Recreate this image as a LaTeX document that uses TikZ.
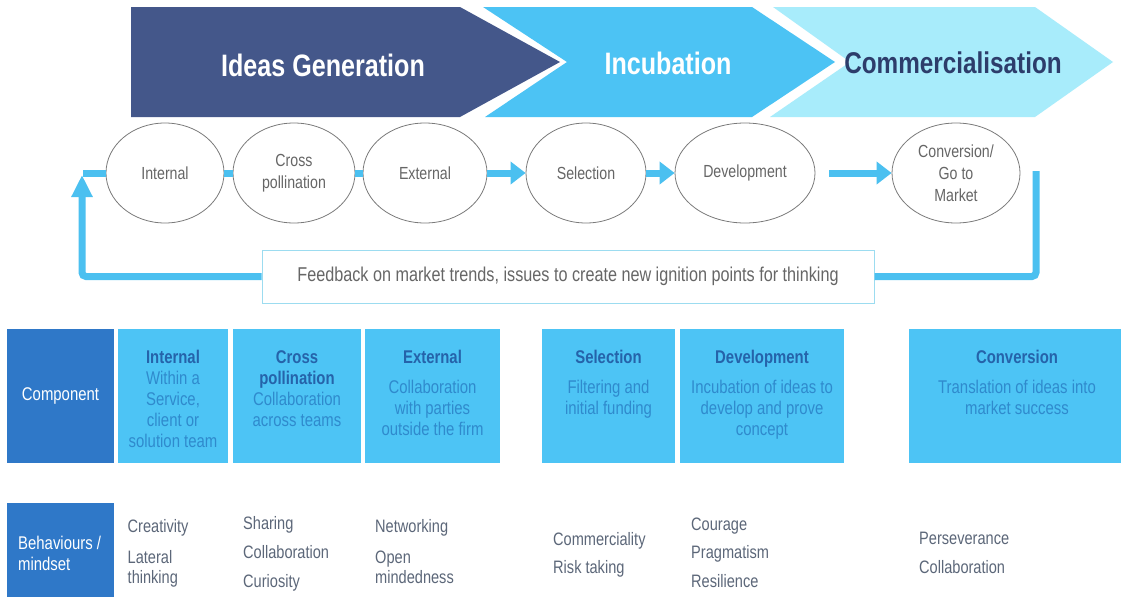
\documentclass[tikz,border=0pt]{standalone}
\usepackage{fontspec}
\setmainfont{Liberation Sans}[FakeStretch=0.81]
\usetikzlibrary{shapes.geometric,arrows.meta,calc}

\definecolor{navy}{HTML}{44578A}
\definecolor{sky}{HTML}{4CC3F4}
\definecolor{pale}{HTML}{A8ECFB}
\definecolor{deepnavy}{HTML}{2D3D6B}
\definecolor{midblue}{HTML}{2F78C8}
\definecolor{boxblue}{HTML}{4DC4F5}
\definecolor{titleblue}{HTML}{2563AA}
\definecolor{bodyblue}{HTML}{2F8ACD}
\definecolor{flow}{HTML}{4BC0F0}
\definecolor{ringgray}{HTML}{7A7A7A}
\definecolor{labelgray}{HTML}{666666}
\definecolor{traitgray}{HTML}{5C6779}
\definecolor{fbline}{HTML}{9CDCF0}

\newcommand\celltitle[1]{\textcolor{titleblue}{\bfseries #1}}

\begin{document}
\begin{tikzpicture}[x=1pt,y=-1pt,
  phase/.style={inner sep=0pt, font=\fontsize{31}{33}\selectfont\bfseries},
  stage/.style={ellipse, draw=ringgray, line width=0.8pt, fill=white, inner sep=0pt,
    minimum height=100pt, align=center, text=labelgray,
    font=\fontsize{17.5}{22}\selectfont},
  flowbar/.style={draw=flow, line width=7pt},
  flowarrow/.style={flowbar, -{Triangle[length=15pt,width=22pt]}},
  cellbox/.style={fill=boxblue, inner sep=0pt, minimum height=134pt},
  headbox/.style={fill=midblue, inner sep=0pt},
  cell/.style={anchor=north, align=center, inner sep=0pt, text=bodyblue,
    font=\fontsize{18.4}{21}\selectfont},
  trait/.style={anchor=base west, inner sep=0pt, text=traitgray,
    font=\fontsize{18}{20}\selectfont}
]
\useasboundingbox (0,0) rectangle (1121,597);
\fill[white] (0,0) rectangle (1121,597);

% phase chevrons
\fill[navy] (131,7) -- (460,7) -- (560,62) -- (460,117) -- (131,117) -- cycle;
\fill[sky] (483,7) -- (752,7) -- (835,62) -- (752,117) -- (485,117) -- (567,62) -- cycle;
\fill[pale] (773,7) -- (1035,7) -- (1113,62) -- (1035,117) -- (770,117) -- (850,62) -- cycle;
\node[phase, text=white] (pideas) at (323,65) {Ideas Generation};
\node[phase, text=white] (pincub) at (668,63) {Incubation};
\node[phase, text=deepnavy, font=\fontsize{30}{32}\selectfont\bfseries] (pcomm) at (953,63) {Commercialisation};

% process stages
\node[stage, minimum width=118pt] (int) at (165,173) {Internal};
\node[stage, minimum width=122pt] (cross) at (294,173) {Cross\\pollination};
\node[stage, minimum width=124pt] (ext) at (425,173) {External};
\node[stage, minimum width=120pt] (sel) at (586,173) {Selection};
\node[stage, minimum width=140pt] (dev) at (745,173) {Development};
\node[stage, minimum width=128pt] (conv) at (956,173) {Conversion/\\Go to\\Market};

\draw[flowbar] (int) -- (cross);
\draw[flowbar] (cross) -- (ext);
\draw[flowarrow] (ext) -- (sel);
\draw[flowarrow] (sel) -- (dev);
\coordinate (devout) at (829,173);
\draw[flowarrow] (devout) -- (conv.west);

% feedback loop
\node[draw=fbline, line width=1pt, minimum width=612pt, minimum height=53pt,
  inner sep=0pt, text=labelgray, font=\fontsize{20}{22}\selectfont] (fb) at (568,276.5)
  {Feedback on market trends, issues to create new ignition points for thinking};
\coordinate (loopin) at (1036,171);
\coordinate (ret) at (82,175);
\coordinate (stub) at (83,173);
\draw[flowbar, rounded corners=4pt] (loopin) |- (fb.east);
\draw[flowbar, rounded corners=4pt, -{Triangle[length=22pt,width=20pt]}] (fb.west) -| (ret);
\draw[flowbar] (stub) -- (int.west);

% component row
\node[headbox, minimum width=107pt, minimum height=134pt] (comp) at (60.5,396) {};
\node[text=white, inner sep=0pt, font=\fontsize{18.4}{21}\selectfont] (complbl) at (comp) {Component};
\node[cellbox, minimum width=110pt] (bint) at (173,396) {};
\node[cellbox, minimum width=128pt] (bcross) at (297,396) {};
\node[cellbox, minimum width=135pt] (bext) at (432.5,396) {};
\node[cellbox, minimum width=133pt] (bsel) at (608.5,396) {};
\node[cellbox, minimum width=164pt] (bdev) at (762,396) {};
\node[cellbox, minimum width=212pt] (bconv) at (1015,396) {};

\node[cell] (tint) at (173,350) {\celltitle{Internal}\\Within a\\Service,\\client or\\solution team};
\node[cell] (tcross) at (297,350) {\celltitle{Cross}\\\celltitle{pollination}\\Collaboration\\across teams};
\node[cell] (text) at (432.5,350) {\celltitle{External}\\[9pt]Collaboration\\with parties\\outside the firm};
\node[cell] (tsel) at (608.5,350) {\celltitle{Selection}\\[9pt]Filtering and\\initial funding};
\node[cell] (tdev) at (762,350) {\celltitle{Development}\\[9pt]Incubation of ideas to\\develop and prove\\concept};
\node[cell] (tconv) at (1017,350) {\celltitle{Conversion}\\[9pt]Translation of ideas into\\market success};

% behaviours row
\node[headbox, minimum width=107pt, minimum height=94pt] (beh) at (60.5,550) {};
\node[anchor=north west, align=left, inner sep=0pt, text=white,
  font=\fontsize{18.4}{21}\selectfont] (behlbl) at (18,536) {Behaviours /\\mindset};

\node[trait] (b1) at (127.5,532) {Creativity};
\node[trait] (b2) at (127.5,563) {Lateral};
\node[trait] (b3) at (127.5,583) {thinking};
\node[trait] (b4) at (243,529) {Sharing};
\node[trait] (b5) at (243,558) {Collaboration};
\node[trait] (b6) at (243,587) {Curiosity};
\node[trait] (b7) at (375,532) {Networking};
\node[trait] (b8) at (375,563) {Open};
\node[trait] (b9) at (375,583) {mindedness};
\node[trait] (b10) at (553,545) {Commerciality};
\node[trait] (b11) at (553,573) {Risk taking};
\node[trait] (b12) at (691,530) {Courage};
\node[trait] (b13) at (691,558) {Pragmatism};
\node[trait] (b14) at (691,587) {Resilience};
\node[trait] (b15) at (919,544) {Perseverance};
\node[trait] (b16) at (919,573) {Collaboration};
\end{tikzpicture}
\end{document}
